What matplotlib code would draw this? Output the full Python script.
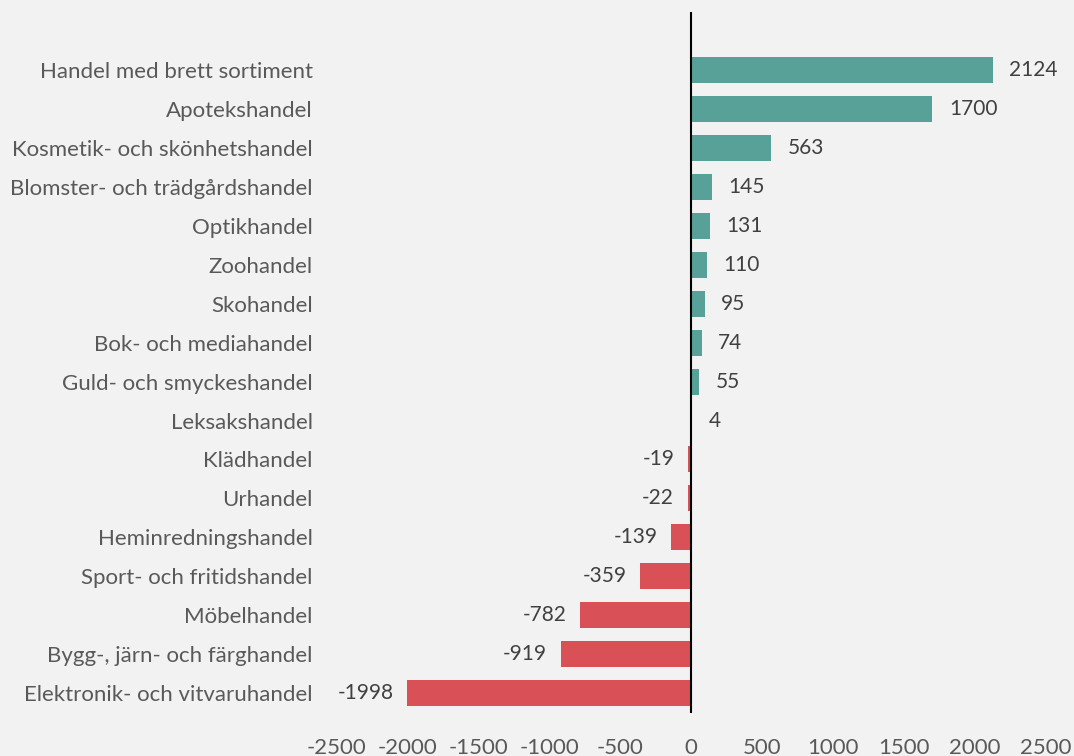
import matplotlib.pyplot as plt
import numpy as np

kategorier = ['Handel med brett sortiment', 'Apotekshandel', 'Kosmetik- och skönhetshandel',
              'Blomster- och trädgårdshandel', 'Optikhandel', 'Zoohandel', 'Skohandel',
              'Bok- och mediahandel', 'Guld- och smyckeshandel', 'Leksakshandel', 'Klädhandel',
              'Urhandel', 'Heminredningshandel', 'Sport- och fritidshandel', 'Möbelhandel',
              'Bygg-, järn- och färghandel', 'Elektronik- och vitvaruhandel']
varden = [2124, 1700, 563, 145, 131, 110, 95, 74, 55, 4, -19, -22, -139, -359, -782, -919, -1998]
xticks = [-2500, -2000, -1500, -1000, -500, 0, 500, 1000, 1500, 2000, 2500]

plt.rcParams['font.family'] = ['Lato', 'DejaVu Sans']
bg = '#f2f2f2'
fig = plt.figure(figsize=(10.74, 7.56), dpi=100, facecolor=bg)
ax = fig.add_axes([0.313, 0.057, 0.661, 0.927], facecolor=bg)

y = np.arange(len(kategorier))
farger = ['#57a198' if v >= 0 else '#d95157' for v in varden]
ax.barh(y, varden, height=0.67, color=farger)

for yi, v in zip(y, varden):
    if v >= 0:
        ax.annotate(str(v), (v, yi), xytext=(12, 0), textcoords='offset points',
                    ha='left', va='center', fontsize=15, color='#404040')
    else:
        ax.annotate(str(v), (v, yi), xytext=(-10, 0), textcoords='offset points',
                    ha='right', va='center', fontsize=15, color='#404040')

ax.axvline(0, color='black', linewidth=1.5)
ax.set_xlim(-2500, 2500)
ax.set_ylim(16.51, -1.49)
ax.set_xticks(xticks)
ax.set_xticklabels([str(t) for t in xticks])
ax.set_yticks(y)
ax.set_yticklabels(kategorier)
ax.tick_params(length=0, labelsize=16, colors='#595959')
ax.tick_params(axis='x', pad=18)
ax.tick_params(axis='y', pad=17)
for s in ax.spines.values():
    s.set_visible(False)

plt.savefig('out.png', facecolor=bg)
